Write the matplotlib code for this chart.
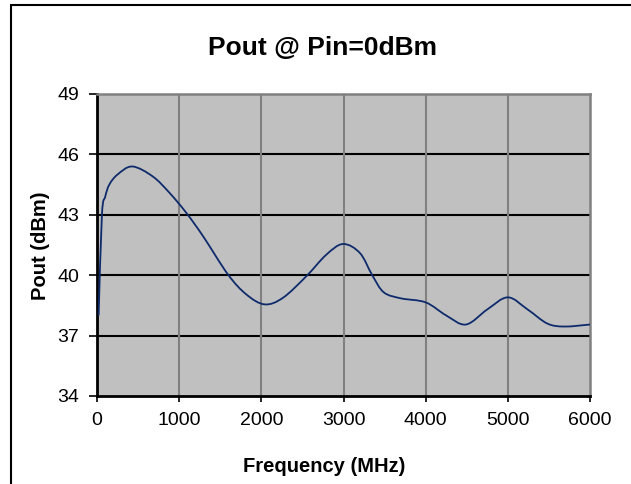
import numpy as np
import matplotlib
matplotlib.use("Agg")
import matplotlib.pyplot as plt
from matplotlib.path import Path
from matplotlib.patches import PathPatch, Rectangle

freq_mhz = [20, 60, 100, 150, 250, 430, 680, 887, 1090, 1292, 1595, 1819, 2041,
            2264, 2548, 2791, 2995, 3200, 3350, 3490, 3700, 4000, 4250, 4490,
            4750, 5000, 5240, 5480, 5690, 6000]
pout_dbm = [38.0, 43.0, 43.9, 44.5, 45.0, 45.4, 44.9, 44.07, 43.08, 41.93, 40.03,
            39.04, 38.55, 38.88, 39.95, 41.02, 41.55, 41.1, 40.0, 39.15, 38.85,
            38.65, 38.0, 37.55, 38.3, 38.9, 38.3, 37.6, 37.45, 37.55]
x_ticks = [0, 1000, 2000, 3000, 4000, 5000, 6000]
y_ticks = [34, 37, 40, 43, 46, 49]
title = "Pout @ Pin=0dBm"
x_label = "Frequency (MHz)"
y_label = "Pout (dBm)"

plt.rcParams['font.family'] = ['Liberation Sans', 'DejaVu Sans']

W, H = 631, 484
fig = plt.figure(figsize=(W / 100, H / 100), dpi=100)
L, R, T, B = 97, 590, 94, 396
ax = fig.add_axes([L / W, 1 - B / H, (R - L) / W, (B - T) / H])
ax.set_facecolor('#C0C0C0')
ax.set_xlim(0, 6000)
ax.set_ylim(34, 49)
ax.set_xticks(x_ticks)
ax.set_yticks(y_ticks)
ax.tick_params(axis='y', labelsize=14, length=6, width=1.2, color='black', pad=7)
ax.tick_params(axis='x', labelsize=14, length=4.5, width=1.2, color='black', pad=7)

for y in y_ticks[1:-1]:
    ax.axhline(y, color='black', lw=1.5, zorder=1)
for x in x_ticks[1:-1]:
    ax.axvline(x, color='#808080', lw=1.5, zorder=1)

for s in ['left', 'bottom']:
    ax.spines[s].set_color('black')
    ax.spines[s].set_linewidth(2)
for s in ['right', 'top']:
    ax.spines[s].set_color('#808080')
    ax.spines[s].set_linewidth(1.8)

# Excel-style smoothed line (Catmull-Rom -> cubic Bezier) in data coords
xs = np.array(freq_mhz, float)
ys = np.array(pout_dbm, float)
n = len(xs)
verts = [(xs[0], ys[0])]
codes = [Path.MOVETO]
for i in range(n - 1):
    p0 = np.array([xs[max(i - 1, 0)], ys[max(i - 1, 0)]])
    p1 = np.array([xs[i], ys[i]])
    p2 = np.array([xs[i + 1], ys[i + 1]])
    p3 = np.array([xs[min(i + 2, n - 1)], ys[min(i + 2, n - 1)]])
    c1 = p1 + (p2 - p0) / 6.0
    c2 = p2 - (p3 - p1) / 6.0
    verts += [tuple(c1), tuple(c2), tuple(p2)]
    codes += [Path.CURVE4] * 3
ax.add_patch(PathPatch(Path(verts, codes), fill=False, edgecolor='#0d2a6b',
                       lw=1.3, zorder=3))

fig.text(322 / W, 1 - 48 / H, title, ha='center', va='center',
         fontsize=19, fontweight='bold')
fig.text(324 / W, 1 - 466 / H, x_label, ha='center', va='center',
         fontsize=14.5, fontweight='bold')
fig.text(41 / W, 1 - 246 / H, y_label, ha='center', va='center',
         fontsize=14.5, fontweight='bold', rotation=90)

fig.patches.append(Rectangle((11 / W, -0.1), 2, 1 - 5 / H + 0.1,
                             transform=fig.transFigure, fill=False,
                             edgecolor='black', lw=1.5))

fig.savefig('out.png', dpi=100)
